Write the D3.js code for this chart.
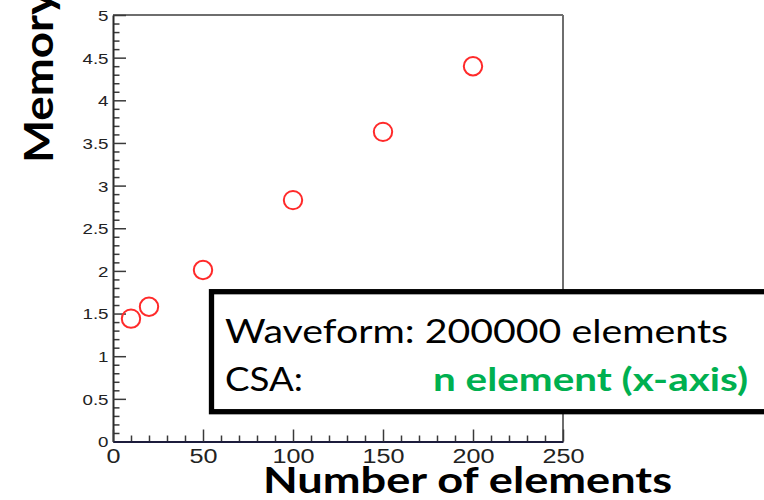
<!DOCTYPE html>
<html>
<head>
<meta charset="utf-8">
<script src="https://cdn.jsdelivr.net/npm/d3@7/dist/d3.min.js"></script>
<style>
  html, body { margin: 0; padding: 0; background: #fff; }
  svg { display: block; }
</style>
</head>
<body>
<svg id="chart" width="764" height="500"></svg>
<script>
// ---- data ----
const nElements = [10, 20, 50, 100, 150, 200];
const memoryValues = [1.44, 1.58, 2.01, 2.83, 3.63, 4.40];
const xTickValues = [0, 50, 100, 150, 200, 250];
const yTickValues = [0, 0.5, 1, 1.5, 2, 2.5, 3, 3.5, 4, 4.5, 5];
const xTitle = "Number of elements";
const yTitle = "Memory";
const legendLine1 = "Waveform: 200000 elements";
const legendLine2a = "CSA:";
const legendLine2b = "n element (x-axis)";

// ---- layout ----
const W = 764, H = 500;
const plotLeft = 113, plotRight = 563, plotTop = 15, plotBottom = 441.5;

const svg = d3.select("#chart");
svg.append("rect").attr("width", W).attr("height", H).attr("fill", "#fff");

const x = d3.scaleLinear().domain([0, 250]).range([plotLeft, plotRight]);
const y = d3.scaleLinear().domain([0, 5]).range([plotBottom, plotTop]);

const tickColor = "#3a3a3a";
const labelFont = "'Liberation Sans', Arial, Helvetica, sans-serif";
const titleFont = "Lato, 'Open Sans', sans-serif";

// frame (top & right)
svg.append("line").attr("x1", plotLeft).attr("x2", plotRight).attr("y1", plotTop).attr("y2", plotTop)
  .attr("stroke", "#6e6e6e").attr("stroke-width", 2);
svg.append("line").attr("x1", plotRight).attr("x2", plotRight).attr("y1", plotTop).attr("y2", plotBottom)
  .attr("stroke", "#6e6e6e").attr("stroke-width", 2);

// minor ticks y
const yMinor = d3.range(0, 51, 1).map(d => d / 10).filter(d => !yTickValues.includes(d));
svg.append("g").attr("transform", `translate(${plotLeft},0)`)
  .call(d3.axisLeft(y).tickValues(yMinor).tickSize(-6.5).tickFormat(""))
  .call(g => g.select(".domain").remove())
  .call(g => g.selectAll("line").attr("stroke", tickColor).attr("stroke-width", 1.5));

// major y axis
const gy = svg.append("g").attr("transform", `translate(${plotLeft},0)`)
  .call(d3.axisLeft(y).tickValues(yTickValues).tickSize(-13).tickSizeOuter(0)
    .tickPadding(0).tickFormat(d => String(d)));
gy.select(".domain").attr("stroke", "#2a2a2a").attr("stroke-width", 2);
gy.selectAll(".tick line").attr("stroke", tickColor).attr("stroke-width", 1.5);
gy.selectAll(".tick text")
  .attr("x", -3.6).attr("dy", "0.36em")
  .attr("transform", "scale(1.25,1)")
  .attr("fill", "#222")
  .style("font-family", labelFont).style("font-size", "15px");

// minor ticks x
const xMinor = d3.range(0, 251, 10).filter(d => !xTickValues.includes(d));
svg.append("g").attr("transform", `translate(0,${plotBottom})`)
  .call(d3.axisBottom(x).tickValues(xMinor).tickSize(-6).tickFormat(""))
  .call(g => g.select(".domain").remove())
  .call(g => g.selectAll("line").attr("stroke", tickColor).attr("stroke-width", 1.5));

// major x axis
const gx = svg.append("g").attr("transform", `translate(0,${plotBottom})`)
  .call(d3.axisBottom(x).tickValues(xTickValues).tickSize(-12).tickSizeOuter(0)
    .tickPadding(0).tickFormat(d => String(d)));
gx.select(".domain").attr("stroke", "#1c1c3c").attr("stroke-width", 2);
gx.selectAll(".tick line").attr("stroke", tickColor).attr("stroke-width", 1.5);
gx.selectAll(".tick text")
  .attr("y", 7).attr("dy", "0.71em")
  .attr("transform", "scale(1.2,1)")
  .attr("fill", "#222")
  .style("font-family", labelFont).style("font-size", "21px");

// points
svg.append("g").selectAll("circle")
  .data(nElements.map((n, i) => ({ n, m: memoryValues[i] })))
  .join("circle")
  .attr("cx", d => x(d.n)).attr("cy", d => y(d.m)).attr("r", 9.2)
  .attr("fill", "none").attr("stroke", "#ff2a2a").attr("stroke-width", 2);

// legend box
svg.append("rect")
  .attr("x", 211.5).attr("y", 291.7).attr("width", 600).attr("height", 120)
  .attr("fill", "#fff").attr("stroke", "#000").attr("stroke-width", 5.3);

function fitText(sel, len) {
  sel.attr("textLength", len).attr("lengthAdjust", "spacingAndGlyphs");
  return sel;
}

fitText(svg.append("text").attr("x", 225).attr("y", 343.3)
  .style("font-family", titleFont).style("font-size", "33px").attr("fill", "#000")
  .text(legendLine1), 503);
fitText(svg.append("text").attr("x", 225).attr("y", 391)
  .style("font-family", titleFont).style("font-size", "33px").attr("fill", "#000")
  .text(legendLine2a), 78);
fitText(svg.append("text").attr("x", 433).attr("y", 391)
  .style("font-family", titleFont).style("font-size", "33px").style("font-weight", "bold")
  .attr("fill", "#00b050")
  .text(legendLine2b), 315);

// axis titles
fitText(svg.append("text").attr("x", 263).attr("y", 493)
  .style("font-family", titleFont).style("font-size", "36px").style("font-weight", "bold")
  .attr("fill", "#000").text(xTitle), 409);

fitText(svg.append("text")
  .attr("transform", "translate(53,163) rotate(-90)")
  .style("font-family", titleFont).style("font-size", "41px").style("font-weight", "bold")
  .attr("fill", "#000").text(yTitle), 172);
</script>
</body>
</html>
